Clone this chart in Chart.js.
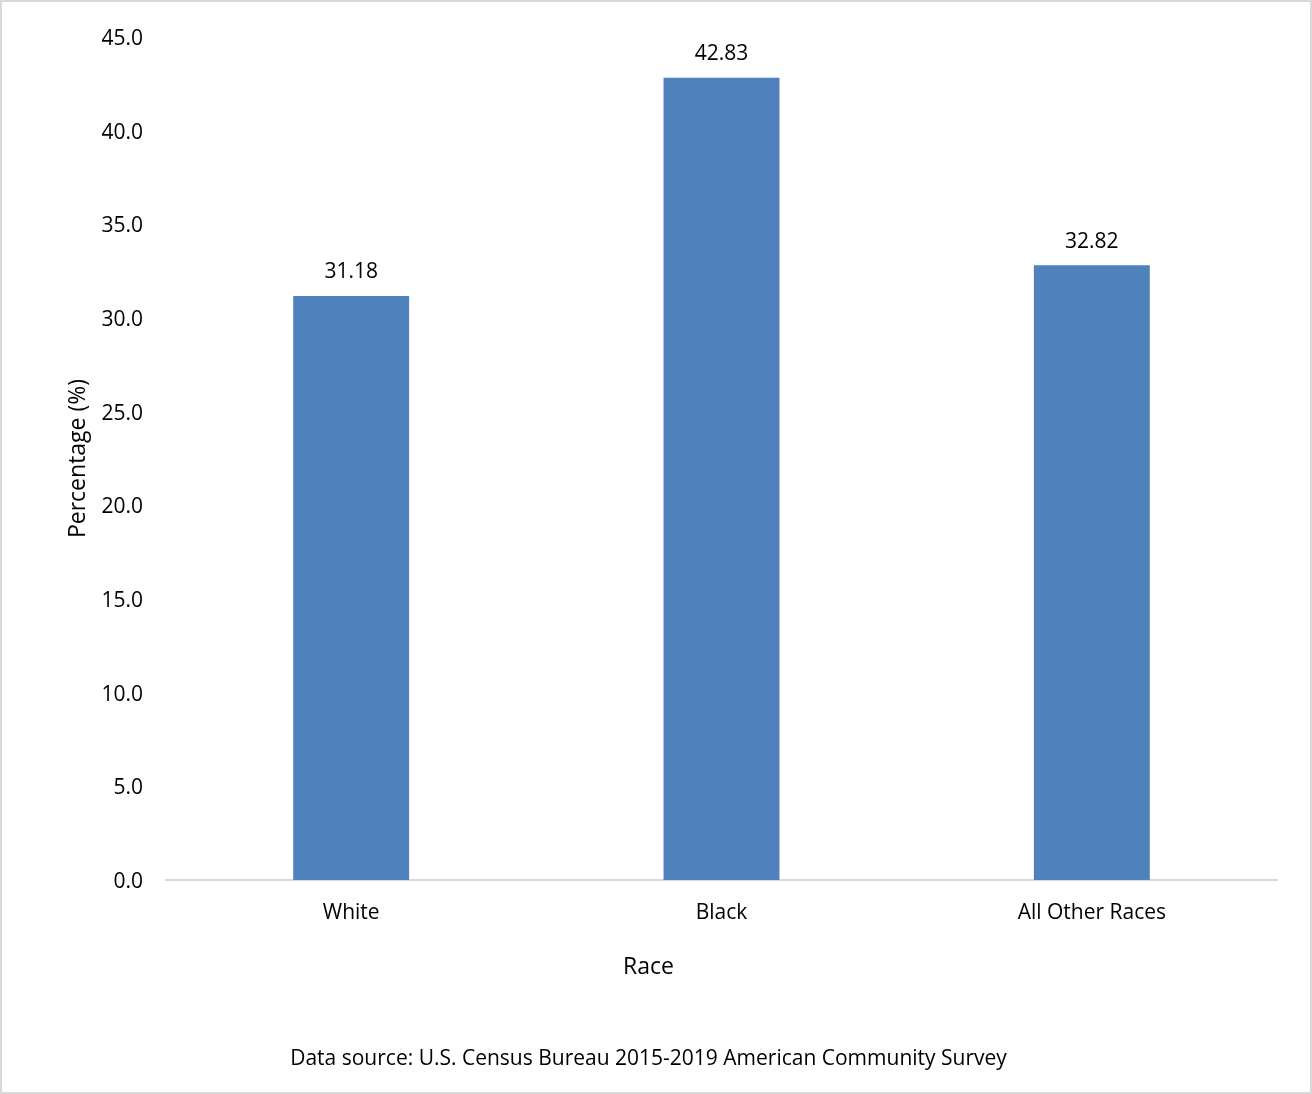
<!DOCTYPE html>
<html>
<head>
<meta charset="utf-8">
<script src="https://cdn.jsdelivr.net/npm/chart.js@4/dist/chart.umd.min.js"></script>
<style>
  html, body { margin: 0; padding: 0; background: #fff; }
  #wrap { position: relative; width: 1312px; height: 1094px; box-sizing: border-box; border: 2px solid #d9d9d9; }
  #graf { position: absolute; left: -2px; top: -2px; }
</style>
</head>
<body>
<div id="wrap"><canvas id="graf" width="1312" height="1094"></canvas></div>
<script>
// Datos
const categorias = ["White", "Black", "All Other Races"];
const porcentajes = [31.18, 42.83, 32.82];
const ticksY = [0, 5, 10, 15, 20, 25, 30, 35, 40, 45];

const fuente = "'Open Sans', 'Noto Sans', sans-serif";

// Etiquetas de valor encima de cada barra
const etiquetasBarras = {
    id: 'etiquetasBarras',
    afterDatasetsDraw(chart) {
        const ctx = chart.ctx;
        const meta = chart.getDatasetMeta(0);
        ctx.save();
        ctx.font = '21px ' + fuente;
        ctx.fillStyle = '#000';
        ctx.textAlign = 'center';
        ctx.textBaseline = 'bottom';
        meta.data.forEach((bar, i) => {
            ctx.fillText(porcentajes[i].toFixed(2), bar.x, bar.y - 13);
        });
        ctx.restore();
    }
};

const ctx = document.getElementById('graf').getContext('2d');
new Chart(ctx, {
    type: 'bar',
    data: {
        labels: categorias,
        datasets: [{
            data: porcentajes,
            backgroundColor: '#4f81bd',
            borderWidth: 0,
            barPercentage: 0.313,
            categoryPercentage: 1
        }]
    },
    options: {
        responsive: false,
        animation: false,
        layout: { padding: { left: 20, right: 35, top: 37, bottom: 0 } },
        plugins: {
            legend: { display: false },
            tooltip: { enabled: false },
            // titulo del eje X centrado en todo el lienzo
            subtitle: {
                display: true,
                position: 'bottom',
                text: 'Race',
                color: '#000',
                font: { family: fuente, size: 23, weight: 'normal', lineHeight: 1.2 },
                padding: { top: 0, bottom: 66 }
            },
            title: {
                display: true,
                position: 'bottom',
                text: 'Data source: U.S. Census Bureau 2015-2019 American Community Survey',
                color: '#000',
                font: { family: fuente, size: 21, weight: 'normal', lineHeight: 1.2 },
                padding: { top: 0, bottom: 22 }
            }
        },
        scales: {
            x: {
                grid: { display: false, drawTicks: false },
                border: { display: true, color: '#d9d9d9', width: 2 },
                ticks: { color: '#000', font: { family: fuente, size: 21 }, padding: 20 },
                afterFit(scale) { scale.height = 73.2; }
            },
            y: {
                min: 0,
                max: 45,
                afterBuildTicks(scale) { scale.ticks = ticksY.map(v => ({ value: v })); },
                grid: { display: false, drawTicks: false },
                border: { display: false },
                ticks: {
                    color: '#000',
                    font: { family: fuente, size: 21 },
                    padding: 23,
                    labelOffset: 2,
                    callback: v => Number(v).toFixed(1)
                },
                title: {
                    display: true,
                    text: 'Percentage (%)',
                    color: '#000',
                    font: { family: fuente, size: 23, lineHeight: 1.2 },
                    padding: { top: 45, bottom: 0 }
                },
                afterFit(scale) { scale.width = 146; }
            }
        }
    },
    plugins: [etiquetasBarras]
});
</script>
</body>
</html>
